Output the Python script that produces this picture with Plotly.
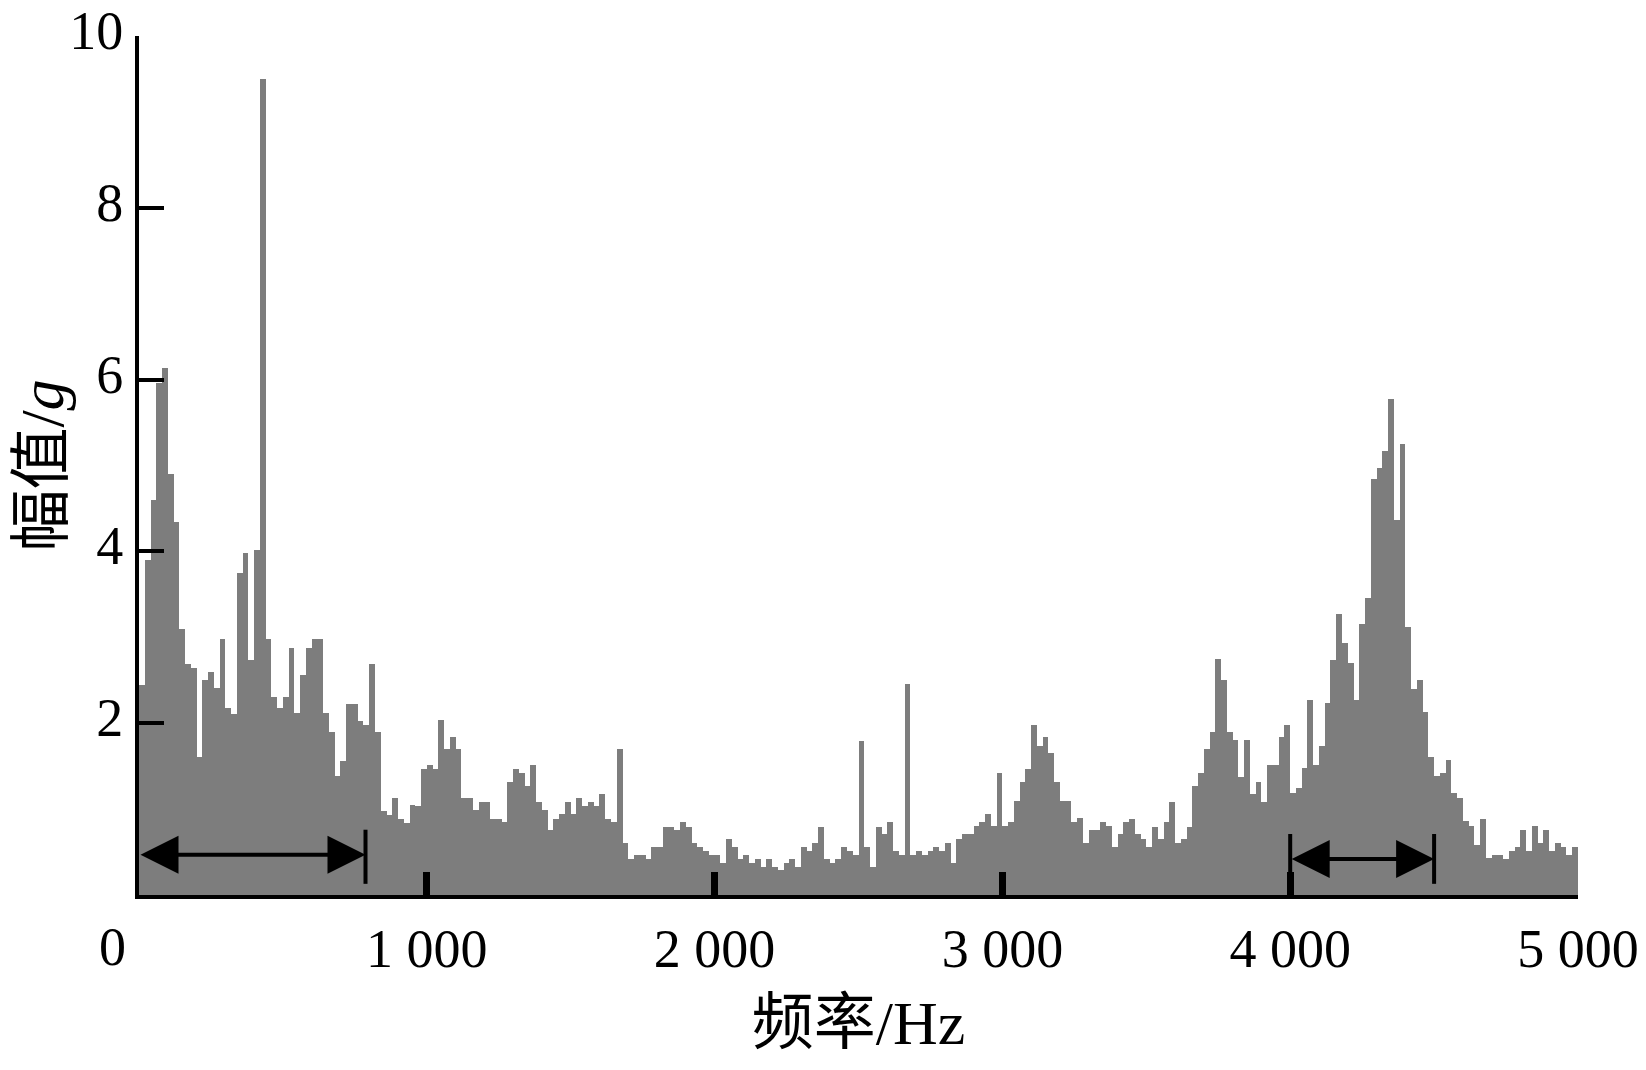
import numpy as np
import plotly.graph_objects as go

# ---------------- data ----------------
bin_width_hz = 20
amplitude_g = [
    # 0 - 1000 Hz
    2.44, 3.9, 4.6, 5.96, 6.14, 4.9, 4.34, 3.1, 2.69, 2.64,
    1.61, 2.5, 2.6, 2.41, 2.98, 2.18, 2.11, 3.75, 3.98, 2.74,
    4.02, 9.5, 2.98, 2.3, 2.18, 2.31, 2.88, 2.12, 2.56, 2.88,
    2.98, 2.98, 2.12, 1.9, 1.38, 1.56, 2.22, 2.22, 2.03, 1.98,
    2.69, 1.9, 0.98, 0.93, 1.13, 0.89, 0.84, 1.05, 1.04, 1.47,
    # 1000 - 1800 Hz
    1.51, 1.47, 2.04, 1.70, 1.84, 1.70, 1.13, 1.13, 0.99, 1.08,
    1.08, 0.89, 0.89, 0.85, 1.32, 1.47, 1.42, 1.27, 1.51, 1.08,
    0.99, 0.76, 0.89, 0.94, 1.08, 0.94, 1.13, 1.04, 1.08, 1.04,
    1.18, 0.89, 0.85, 1.70, 0.60, 0.42, 0.47, 0.47, 0.42, 0.56,
    # 1800 - 2600 Hz
    0.56, 0.79, 0.79, 0.76, 0.85, 0.79, 0.60, 0.56, 0.51, 0.47,
    0.47, 0.37, 0.65, 0.56, 0.42, 0.47, 0.37, 0.42, 0.33, 0.42,
    0.33, 0.29, 0.37, 0.42, 0.33, 0.56, 0.51, 0.60, 0.79, 0.42,
    0.37, 0.42, 0.56, 0.51, 0.47, 1.79, 0.56, 0.33, 0.79, 0.71,
    # 2600 - 3400 Hz
    0.85, 0.51, 0.47, 2.46, 0.47, 0.51, 0.47, 0.51, 0.56, 0.51,
    0.61, 0.37, 0.65, 0.71, 0.71, 0.80, 0.85, 0.94, 0.80, 1.42,
    0.80, 0.85, 1.09, 1.32, 1.47, 1.98, 1.74, 1.84, 1.65, 1.32,
    1.10, 1.09, 0.85, 0.90, 0.61, 0.76, 0.76, 0.85, 0.80, 0.56,
    # 3400 - 4000 Hz
    0.71, 0.85, 0.89, 0.71, 0.65, 0.56, 0.79, 0.65, 0.85, 1.08,
    0.60, 0.65, 0.79, 1.27, 1.42, 1.70, 1.90, 2.75, 2.50, 1.90,
    1.80, 1.37, 1.80, 1.18, 1.32, 1.08, 1.51, 1.51, 1.84, 1.98,
    # 4000 - 4720 Hz
    1.19, 1.24, 1.48, 2.27, 1.51, 1.74, 2.23, 2.74, 3.27, 2.93,
    2.70, 2.27, 3.16, 3.46, 4.84, 4.97, 5.17, 5.77, 4.36, 5.25,
    3.12, 2.40, 2.50, 2.13, 1.61, 1.38, 1.42, 1.57, 1.19, 1.13,
    0.86, 0.80, 0.58, 0.89, 0.43, 0.47,
    # 4720 - 5000 Hz
    0.47, 0.42, 0.51, 0.56, 0.76, 0.51, 0.80, 0.60, 0.76, 0.51,
    0.60, 0.56, 0.47, 0.56,
]
freq_hz = np.arange(len(amplitude_g)) * bin_width_hz + bin_width_hz / 2

x_tick_vals = [1000, 2000, 3000, 4000, 5000]
x_tick_text = ["1 000", "2 000", "3 000", "4 000", "5 000"]
y_tick_vals = [2, 4, 6, 8, 10]
y_tick_text = ["2", "4", "6", "8", "10"]

# marked frequency bands (double arrows)
band_start_hz = [0, 4000]
band_end_hz = [787, 4500]
band_arrow_g = [0.47, 0.42]
cap_top_g = [0.76, 0.71]
cap_bottom_g = [0.13, 0.13]

x_title = "频率/Hz"
y_title = "幅值/<i>g</i>"

# ---------------- figure ----------------
FONT = "Liberation Serif, Times New Roman, Noto Sans CJK SC, serif"
GREY = "rgb(125,125,125)"
TICK_SIZE = 54
TITLE_SIZE = 62

fig = go.Figure()
fig.add_trace(go.Bar(
    x=freq_hz, y=amplitude_g, width=bin_width_hz,
    marker=dict(color=GREY, line=dict(width=0)),
    hoverinfo="x+y", showlegend=False,
))

shapes = []
annotations = []
for i in range(len(band_start_hz)):
    s, e, ya = band_start_hz[i], band_end_hz[i], band_arrow_g[i]
    annotations.append(dict(
        x=e, y=ya, ax=s, ay=ya, xref="x", yref="y", axref="x", ayref="y",
        text="", showarrow=True, arrowhead=2, startarrowhead=2,
        arrowside="end+start", arrowsize=1.9, startarrowsize=1.9,
        arrowwidth=4, arrowcolor="black", standoff=0, startstandoff=0,
    ))
    shapes.append(dict(type="line", xref="x", yref="y", x0=e, x1=e,
                       y0=cap_bottom_g[i], y1=cap_top_g[i],
                       line=dict(color="black", width=4)))
    if s > 0:
        shapes.append(dict(type="line", xref="x", yref="y", x0=s, x1=s,
                           y0=0, y1=cap_top_g[i],
                           line=dict(color="black", width=4)))

# origin label "0"
annotations.append(dict(
    x=0, y=0, xref="x", yref="paper", text="0", showarrow=False,
    xanchor="center", yanchor="top", xshift=-27, yshift=-20,
    font=dict(family=FONT, size=TICK_SIZE, color="black"),
))

# page body has an 8px margin, so the figure is 8px smaller and margins shifted
fig.update_layout(
    template="none",
    width=1638, height=1062,
    margin=dict(l=131, r=68, t=28, b=175, autoexpand=False),
    paper_bgcolor="white", plot_bgcolor="white",
    bargap=0, showlegend=False,
    font=dict(family=FONT, size=TICK_SIZE, color="black"),
    shapes=shapes, annotations=annotations,
    xaxis=dict(
        automargin=False,
        range=[0, 5000], tickvals=x_tick_vals, ticktext=x_tick_text,
        ticks="inside", ticklen=23, tickwidth=7, tickcolor="black",
        ticklabelstandoff=3, ticklabeloverflow="allow",
        showline=True, linecolor="black", linewidth=4,
        showgrid=False, zeroline=False,
        tickfont=dict(family=FONT, size=TICK_SIZE, color="black"),
        title=dict(text=x_title, font=dict(family=FONT, size=TITLE_SIZE, color="black"),
                   standoff=24),
    ),
    yaxis=dict(
        automargin=False,
        range=[0, 10.0001], tickvals=y_tick_vals, ticktext=y_tick_text,
        ticks="inside", ticklen=25, tickwidth=4, tickcolor="black",
        ticklabelstandoff=1, ticklabelshift=-6, ticklabeloverflow="allow",
        showline=True, linecolor="black", linewidth=4,
        showgrid=False, zeroline=False,
        tickfont=dict(family=FONT, size=TICK_SIZE, color="black"),
        title=dict(text=y_title, font=dict(family=FONT, size=TITLE_SIZE, color="black"),
                   standoff=0),
    ),
)

fig.write_html("out.html")
